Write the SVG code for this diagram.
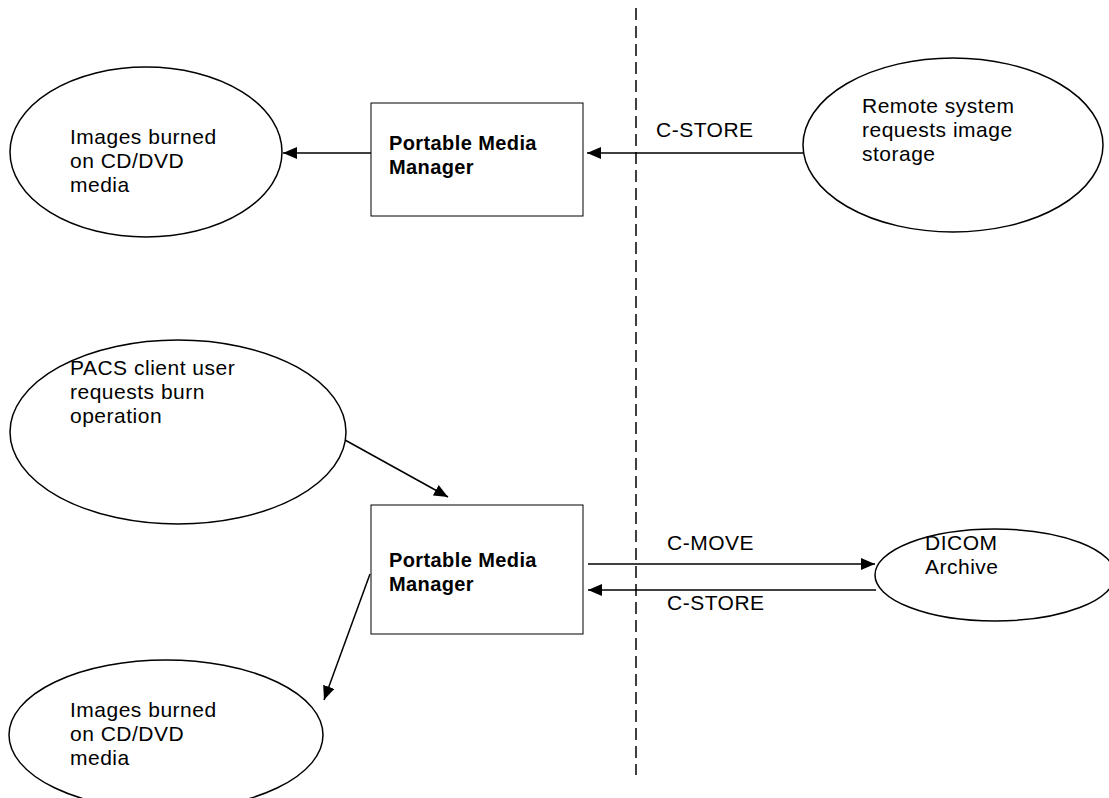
<svg xmlns="http://www.w3.org/2000/svg" width="1109" height="798" viewBox="0 0 1109 798">
<defs>
<marker id="ah" markerWidth="14" markerHeight="12" refX="14" refY="6" orient="auto" markerUnits="userSpaceOnUse"><path d="M0,0 L14,6 L0,12 z" fill="#000"/></marker>
<style>
.n{fill:#fff;stroke:#000;stroke-width:1.5}
.b{fill:#fff;stroke:#000;stroke-width:1}
.t{font-family:"Liberation Sans",Arial,sans-serif;font-size:21px;letter-spacing:0.5px;fill:#000}
.tb{font-family:"Liberation Sans",Arial,sans-serif;font-size:20px;letter-spacing:0.4px;font-weight:bold;fill:#000}
.c{stroke:#000;stroke-width:1.5;fill:none;marker-end:url(#ah)}
</style>
</defs>
<rect width="1109" height="798" fill="#fff"/>
<line x1="636" y1="8" x2="636" y2="775" stroke="#000" stroke-width="1.5" stroke-dasharray="12,6"/>
<g id="img1"><ellipse class="n" cx="146" cy="152" rx="136" ry="85"/><text class="t" x="70" y="144">Images burned</text><text class="t" x="70" y="168">on CD/DVD</text><text class="t" x="70" y="192">media</text></g>
<g id="pmm1"><rect class="b" x="371" y="103" width="212" height="113"/><text class="tb" x="389" y="150">Portable Media</text><text class="tb" x="389" y="174">Manager</text></g>
<g id="remote"><ellipse class="n" cx="953" cy="145" rx="150" ry="87"/><text class="t" x="862" y="113">Remote system</text><text class="t" x="862" y="137">requests image</text><text class="t" x="862" y="161">storage</text></g>
<g id="pacs"><ellipse class="n" cx="178" cy="432" rx="168" ry="92"/><text class="t" x="70" y="375">PACS client user</text><text class="t" x="70" y="399">requests burn</text><text class="t" x="70" y="423">operation</text></g>
<g id="pmm2"><rect class="b" x="371" y="505" width="212" height="129"/><text class="tb" x="389" y="567">Portable Media</text><text class="tb" x="389" y="591">Manager</text></g>
<g id="dicom"><ellipse class="n" cx="995" cy="575" rx="120" ry="46"/><text class="t" x="925" y="550">DICOM</text><text class="t" x="925" y="574">Archive</text></g>
<g id="img2"><ellipse class="n" cx="166" cy="735" rx="157" ry="75"/><text class="t" x="70" y="717">Images burned</text><text class="t" x="70" y="741">on CD/DVD</text><text class="t" x="70" y="765">media</text></g>
<g id="connectors">
<line class="c" x1="371" y1="153" x2="283" y2="153"/>
<line class="c" x1="803" y1="153" x2="587" y2="153"/>
<text class="t" x="656" y="137">C-STORE</text>
<line class="c" x1="345" y1="440" x2="448" y2="497"/>
<line class="c" x1="588" y1="564" x2="875" y2="564"/>
<text class="t" x="667" y="550">C-MOVE</text>
<line class="c" x1="876" y1="590" x2="588" y2="590"/>
<text class="t" x="667" y="610">C-STORE</text>
<line class="c" x1="370" y1="574" x2="324" y2="700"/>
</g>
</svg>
